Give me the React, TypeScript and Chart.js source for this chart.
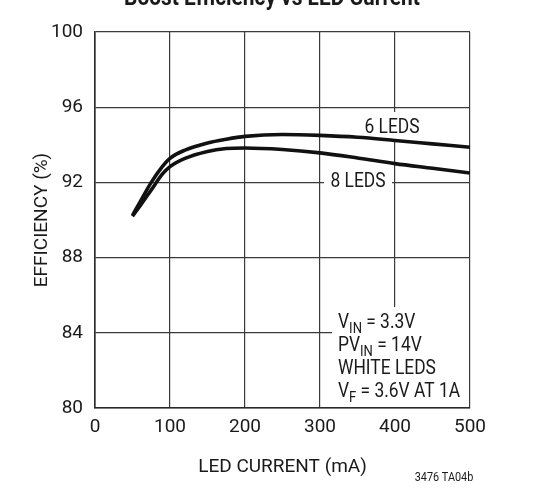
import React, { useEffect, useRef } from 'react';
import { Chart, registerables } from 'chart.js';

Chart.register(...registerables);

// LED current (mA) vs efficiency (%)
const ledCurrent = [50, 60, 75, 90, 100, 120, 150, 175, 200, 250, 300, 350, 400, 450, 500];
const eff6Leds = [90.25, 90.95, 92.0, 92.85, 93.28, 93.72, 94.1, 94.3, 94.45, 94.55, 94.5, 94.4, 94.23, 94.05, 93.87];
const eff8Leds = [90.2, 90.75, 91.6, 92.45, 92.84, 93.28, 93.65, 93.8, 93.83, 93.75, 93.57, 93.3, 93.0, 92.75, 92.5];
const xTicks = [0, 100, 200, 300, 400, 500];
const yTicks = [80, 84, 88, 92, 96, 100];

const seriesLabels = ['6 LEDS', '8 LEDS'];
const conditions = [
  ['V', 'IN', ' = 3.3V'],
  ['PV', 'IN', ' = 14V'],
  ['WHITE LEDS', '', ''],
  ['V', 'F', ' = 3.6V AT 1A'],
];

const FONT = "Roboto, 'Noto Sans', sans-serif";
const INK = '#1a1a1a';
const SQUEEZE = 0.87; // mimic the condensed face of the original

// draw text squeezed horizontally around its anchor x
function narrowText(ctx: CanvasRenderingContext2D, text: string, x: number, y: number) {
  ctx.save();
  ctx.translate(x, y);
  ctx.scale(SQUEEZE, 1);
  ctx.fillText(text, 0, 0);
  ctx.restore();
}

const extrasPlugin = {
  id: 'extras',
  beforeDatasetsDraw(chart: any) {
    const { ctx, chartArea } = chart;
    ctx.save();
    ctx.fillStyle = '#fff';
    // masks behind the in-plot labels
    ctx.fillRect(361, 112, 62, 30);
    ctx.fillRect(324, 172, 68, 20);
    ctx.fillRect(332, 307, chartArea.right - 333, chartArea.bottom - 308);
    ctx.restore();
  },
  afterDraw(chart: any) {
    const { ctx } = chart;
    ctx.save();
    ctx.fillStyle = INK;

    // title, clipped at the top edge
    ctx.font = `bold 24px ${FONT}`;
    ctx.textAlign = 'center';
    ctx.textBaseline = 'alphabetic';
    narrowText(ctx, 'Boost Efficiency vs LED Current', 272, 5);

    ctx.font = `20px ${FONT}`;
    ctx.textBaseline = 'middle';
    narrowText(ctx, seriesLabels[0], 392, 128);
    narrowText(ctx, seriesLabels[1], 358, 182);

    ctx.textAlign = 'left';
    ctx.textBaseline = 'alphabetic';
    conditions.forEach((c, i) => {
      const base = 328 + i * 22.9;
      let cx = 338;
      ctx.font = `20px ${FONT}`;
      narrowText(ctx, c[0], cx, base);
      cx += ctx.measureText(c[0]).width * SQUEEZE;
      if (c[1]) {
        ctx.font = `15px ${FONT}`;
        narrowText(ctx, c[1], cx, base + 5);
        cx += ctx.measureText(c[1]).width * SQUEEZE;
      }
      ctx.font = `20px ${FONT}`;
      narrowText(ctx, c[2], cx, base);
    });

    ctx.font = `12.5px ${FONT}`;
    ctx.textAlign = 'center';
    ctx.textBaseline = 'middle';
    narrowText(ctx, '3476 TA04b', 444, 478);
    ctx.restore();
  },
};

const App: React.FC = () => {
  const canvasRef = useRef<HTMLCanvasElement | null>(null);

  useEffect(() => {
    const ctx = canvasRef.current?.getContext('2d');
    if (!ctx) return;

    const lineStyle = {
      borderColor: '#111',
      borderWidth: 3.6,
      pointRadius: 0,
      fill: false,
      cubicInterpolationMode: 'monotone' as const,
    };

    const chart = new Chart(ctx, {
      type: 'line',
      data: {
        datasets: [
          { label: seriesLabels[0], data: ledCurrent.map((v, i) => ({ x: v, y: eff6Leds[i] })), ...lineStyle },
          { label: seriesLabels[1], data: ledCurrent.map((v, i) => ({ x: v, y: eff8Leds[i] })), ...lineStyle },
        ],
      },
      options: {
        responsive: false,
        animation: false,
        devicePixelRatio: 1,
        layout: { padding: { top: 32, right: 63, bottom: 0, left: 0 } },
        plugins: {
          legend: { display: false },
          tooltip: { enabled: false },
        },
        scales: {
          x: {
            type: 'linear',
            min: 0,
            max: 500,
            afterFit: (scale: any) => { scale.height = 92; },
            afterBuildTicks: (scale: any) => { scale.ticks = xTicks.map((v) => ({ value: v })); },
            grid: { color: '#3a3a3a', lineWidth: 1.2, drawTicks: false },
            border: { color: '#2a2a2a', width: 1.6 },
            ticks: { color: INK, font: { family: FONT, size: 19 }, padding: 8, maxRotation: 0 },
            title: {
              display: true,
              text: 'LED CURRENT (mA)',
              color: INK,
              font: { family: FONT, size: 19 },
              padding: { top: 0, bottom: 21 },
            },
          },
          y: {
            type: 'linear',
            min: 80,
            max: 100,
            afterFit: (scale: any) => { scale.width = 95; },
            afterBuildTicks: (scale: any) => { scale.ticks = yTicks.map((v) => ({ value: v })); },
            grid: { color: '#3a3a3a', lineWidth: 1.2, drawTicks: false },
            border: { color: '#2a2a2a', width: 1.6 },
            ticks: { color: INK, font: { family: FONT, size: 19 }, padding: 12 },
            title: {
              display: true,
              text: 'EFFICIENCY (%)',
              color: INK,
              font: { family: FONT, size: 19 },
              padding: { top: 31, bottom: 0 },
            },
          },
        },
      },
      plugins: [extrasPlugin],
    });

    return () => {
      chart.destroy();
    };
  }, []);

  return (
    <div style={{ position: 'absolute', left: 0, top: 0, width: 533, height: 500, background: '#fff' }}>
      <canvas ref={canvasRef} width={533} height={500} />
    </div>
  );
};

export default App;
